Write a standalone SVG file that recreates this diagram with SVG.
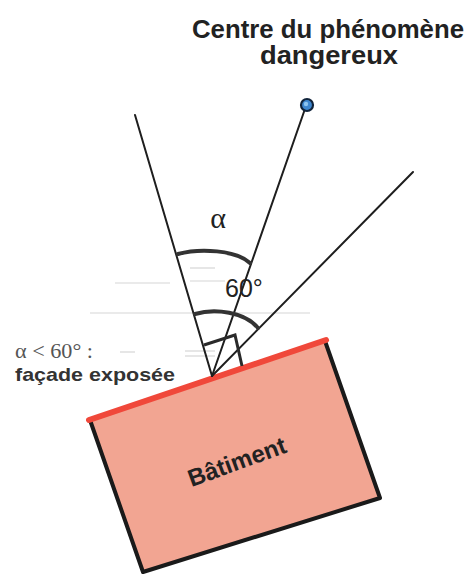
<svg xmlns="http://www.w3.org/2000/svg" width="469" height="574" viewBox="0 0 469 574">
<style>
.title{font-family:"Liberation Sans",Arial,sans-serif;font-weight:bold;font-size:25px;fill:#222;text-anchor:middle}
.ray{stroke:#1e1e1e;stroke-width:2;fill:none;stroke-linecap:round}
.arc{stroke:#333;stroke-width:4;fill:none;stroke-linecap:round}
.faint{stroke:#d6d6d6;stroke-width:1.2}
</style>
<rect width="469" height="574" fill="#fff"/>
<g id="scan-artifacts">
<line class="faint" x1="115" y1="283" x2="170" y2="283"/>
<line class="faint" x1="190" y1="268" x2="215" y2="268"/>
<line class="faint" x1="190" y1="281" x2="225" y2="281"/>
<line class="faint" x1="90" y1="313" x2="310" y2="313"/>
<line class="faint" x1="120" y1="352" x2="135" y2="352"/>
<line class="faint" x1="185" y1="351" x2="215" y2="351"/>
<line class="faint" x1="185" y1="356" x2="215" y2="356"/>
</g>
<g id="titre">
<text class="title" x="328" y="38" textLength="272" lengthAdjust="spacingAndGlyphs">Centre du phénomène</text>
<text class="title" x="329" y="64" textLength="138" lengthAdjust="spacingAndGlyphs">dangereux</text>
</g>
<g id="batiment">
<polygon points="90,420 325,341 380,498 143,572" fill="#f2a592" stroke="none"/>
<polyline points="325,341 380,498 143,572 90,420" fill="none" stroke="#1a1a1a" stroke-width="4" stroke-linejoin="round"/>
<line x1="89" y1="420" x2="326" y2="340" stroke="#f0483a" stroke-width="6" stroke-linecap="round"/>
<text x="237" y="470" transform="rotate(-20 237 462)" font-family="'Liberation Sans',Arial,sans-serif" font-weight="bold" font-size="24" fill="#222" text-anchor="middle">Bâtiment</text>
</g>
<g id="connecteurs">
<line class="ray" x1="212" y1="376" x2="135" y2="115"/>
<line class="ray" x1="212" y1="376" x2="306" y2="106"/>
<line class="ray" x1="212" y1="376" x2="413" y2="172"/>
<path class="arc" d="M178,254 C200,248 236,250 250,263"/>
<path class="arc" d="M195,314 C215,308 245,312 258,328"/>
<polyline points="204,345 235,335 242,366" fill="none" stroke="#2a2a2a" stroke-width="3" stroke-linejoin="miter"/>
</g>
<g id="centre">
<circle cx="307" cy="105" r="6" fill="#3d86cf" stroke="#10233a" stroke-width="2.2"/>
<circle cx="306" cy="104" r="2.2" fill="#8cc4f0"/>
</g>
<g id="labels">
<text x="218" y="228" font-family="'Liberation Serif','Times New Roman',serif" font-size="30" fill="#222" text-anchor="middle">α</text>
<text x="225" y="297" font-family="'Liberation Sans',Arial,sans-serif" font-size="25" fill="#222">60°</text>
<text x="15" y="358" font-family="'Liberation Serif','Times New Roman',serif" font-size="20" fill="#555" textLength="78" lengthAdjust="spacingAndGlyphs">α &lt; 60° :</text>
<text x="15" y="381" font-family="'Liberation Sans',Arial,sans-serif" font-weight="bold" font-size="19" fill="#333" textLength="160" lengthAdjust="spacingAndGlyphs">façade exposée</text>
</g>
</svg>
